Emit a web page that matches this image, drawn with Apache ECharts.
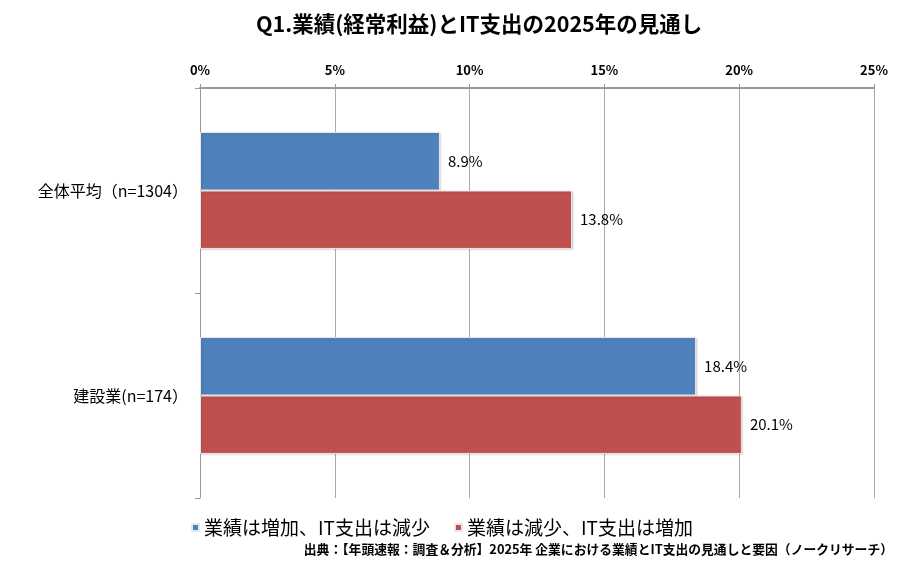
<!DOCTYPE html>
<html>
<head>
<meta charset="utf-8">
<script src="https://cdn.jsdelivr.net/npm/echarts@6/dist/echarts.min.js"></script>
<style>
  html, body { margin: 0; padding: 0; background: #fff; }
  #chart { width: 900px; height: 570px; }
</style>
</head>
<body>
<div id="chart"></div>
<script>
// データ
const categories = ['全体平均（n=1304）', '建設業(n=174）'];
const seriesNames = ['業績は増加、IT支出は減少', '業績は減少、IT支出は増加'];
const upDownValues = [8.9, 18.4];
const downUpValues = [13.8, 20.1];
const colors = ['#4F81BD', '#C0504D'];

const font = '"Noto Sans CJK JP", "Noto Sans", sans-serif';

const chart = echarts.init(document.getElementById('chart'));

const makeSeries = (name, data, color) => ({
  name,
  type: 'bar',
  data,
  barGap: '0%',
  barCategoryGap: '43%',
  itemStyle: {
    color,
    borderColor: '#e8e8e8',
    borderWidth: 1,
    shadowColor: 'rgba(0,0,0,0.15)',
    shadowBlur: 2,
    shadowOffsetX: 1,
    shadowOffsetY: 1,
  },
  label: {
    show: true,
    position: 'right',
    distance: 8,
    color: '#000',
    fontFamily: font,
    fontSize: 15,
    formatter: p => p.value.toFixed(1) + '%',
  },
});

const option = {
  animation: false,
  backgroundColor: '#fff',
  title: {
    text: 'Q1.業績(経常利益)とIT支出の2025年の見通し',
    left: 251,
    top: 8,
    textStyle: {
      fontFamily: font,
      fontSize: 21.5,
      fontWeight: 'bold',
      color: '#000',
    },
  },
  legend: {
    left: 186,
    top: 513,
    icon: 'rect',
    itemWidth: 7,
    itemHeight: 7,
    itemGap: 24,
    textStyle: { fontFamily: font, fontSize: 19, color: '#000' },
    data: seriesNames,
  },
  graphic: [
    {
      type: 'text',
      right: 7,
      top: 543,
      style: {
        text: '出典：【年頭速報：調査＆分析】2025年 企業における業績とIT支出の見通しと要因（ノークリサーチ）',
        fontFamily: font,
        fontSize: 12.8,
        fontWeight: 'bold',
        fill: '#000',
      },
    },
  ],
  grid: { left: 200, right: 26, top: 88, bottom: 72 },
  xAxis: {
    type: 'value',
    position: 'top',
    min: 0,
    max: 25,
    interval: 5,
    axisLine: { show: true, lineStyle: { color: '#999', width: 2 } },
    axisTick: { show: true, length: 4, lineStyle: { color: '#999' } },
    axisLabel: {
      formatter: '{value}%',
      fontFamily: font,
      fontSize: 13,
      fontWeight: 'bold',
      color: '#000',
      margin: 11,
    },
    splitLine: { show: true, lineStyle: { color: '#aaa', width: 1 } },
  },
  yAxis: {
    type: 'category',
    inverse: true,
    data: categories,
    axisLine: { show: true, lineStyle: { color: '#999', width: 1 } },
    axisTick: { show: true, length: 5, alignWithLabel: false, lineStyle: { color: '#999' } },
    axisLabel: {
      fontFamily: font,
      fontSize: 16,
      color: '#000',
      margin: 12,
    },
  },
  series: [
    makeSeries(seriesNames[0], upDownValues, colors[0]),
    makeSeries(seriesNames[1], downUpValues, colors[1]),
  ],
};

chart.setOption(option);
window.addEventListener('resize', () => chart.resize());
</script>
</body>
</html>
